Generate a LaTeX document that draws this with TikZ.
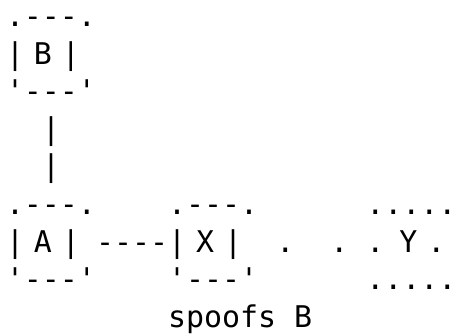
\documentclass[tikz,border=0pt]{standalone}
\usepackage{fontspec}
\setmonofont{DejaVu Sans Mono}
\usetikzlibrary{positioning}
\newcommand{\asciifont}{\ttfamily\fontsize{14.95pt}{18.8pt}\selectfont}

\begin{document}
\begin{tikzpicture}[node distance=37.6pt,
    execute at begin picture=\asciifont,
    ascii/.style={font=\asciifont, inner sep=0pt, outer sep=0pt,
      execute at begin node=\strut, execute at end node=\strut},
    hostbox/.style={ascii, align=left, text width=45.1pt},
    vlink/.style={ascii, align=left, text width=9.1pt}]
  \useasboundingbox (-3pt,0.09pt) rectangle (222.5pt,-166.91pt);
  % hosts as character boxes
  \node[hostbox, anchor=north west] (B) at (0,0) {.---.\\| B |\\'---'};
  \node[hostbox, below=of B] (A) {.---.\\| A |\\'---'};
  \node[hostbox, right=36pt of A] (X) {.---.\\| X |\\'---'};
  \node[hostbox, right=54pt of X] (Y) {.....\\. Y .\\.....};
  % links between them
  \path (B) -- (A) node[vlink, midway] (BA) {|\\|};
  \path (A) -- (X) node[ascii, midway] (AX) {----};
  \path (X) -- (Y) node[ascii, midway] (XY) {.~~.};
  \node[ascii, anchor=north west] (spoof) at (X.south west) {spoofs B};
\end{tikzpicture}
\end{document}
